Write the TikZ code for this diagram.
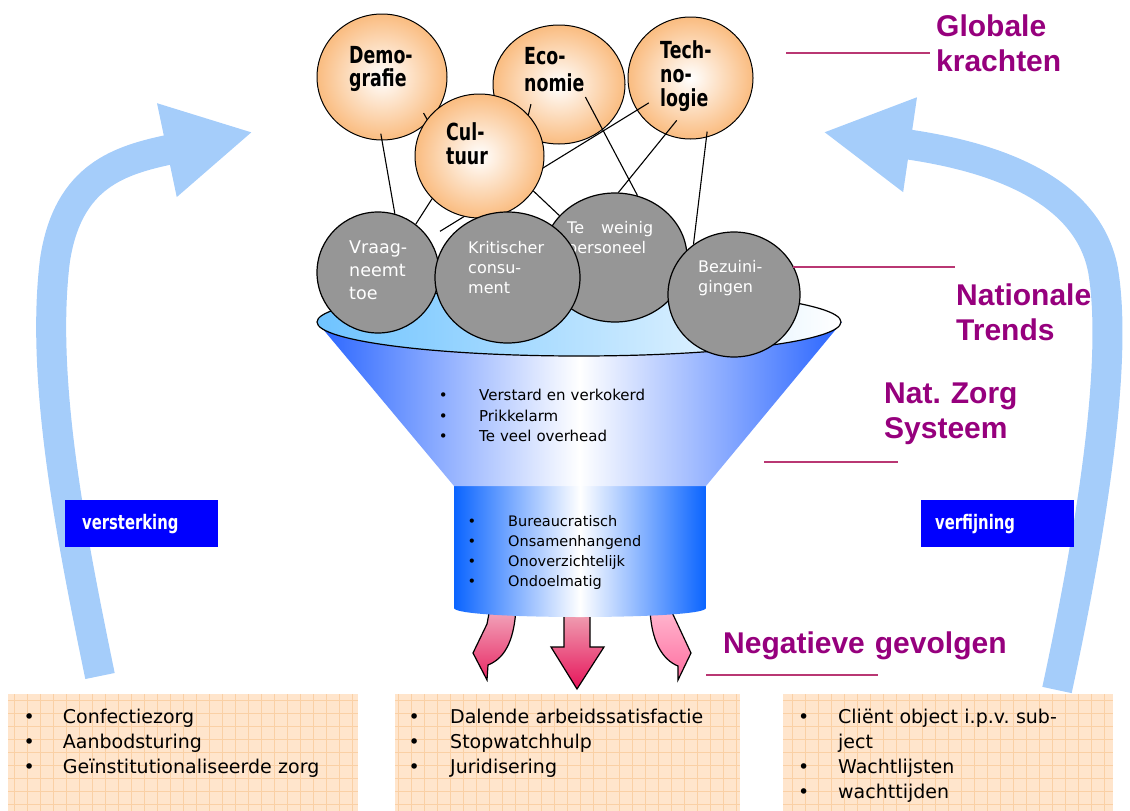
\documentclass[tikz,border=0pt]{standalone}
\usepackage{fontspec}
\setmainfont{DejaVu Sans}
\newfontfamily\titlefont{Liberation Sans}
\newfontfamily\narrowfont[FakeStretch=0.74]{DejaVu Sans}
\usetikzlibrary{shapes.geometric,arrows.meta}
\frenchspacing

\definecolor{purp}{RGB}{150,0,125}
\definecolor{purpline}{RGB}{185,55,115}
\definecolor{forcecol}{RGB}{250,188,128}
\definecolor{trendgray}{RGB}{150,150,150}
\definecolor{sky}{RGB}{165,205,250}
\definecolor{rimblue}{RGB}{110,195,255}
\definecolor{coneblue}{RGB}{40,100,255}
\definecolor{cylblue}{RGB}{10,100,255}
\definecolor{boxfill}{RGB}{255,229,204}
\definecolor{boxgrid}{RGB}{250,208,165}
\definecolor{pureblue}{RGB}{0,0,255}

\pgfdeclarelayer{bg}
\pgfdeclarelayer{links}
\pgfsetlayers{bg,links,main}

\newcommand\bul[1]{\makebox[#1][l]{\textbullet}}

\tikzset{
  force/.style={ellipse, draw, line width=1pt, inner sep=0pt, inner color=white, outer color=forcecol},
  trend/.style={ellipse, draw, line width=1.2pt, fill=trendgray, inner sep=0pt},
  link/.style={draw, line width=1.1pt},
  forcetxt/.style={anchor=base west, inner sep=0pt, text width=80pt, align=left,
    font=\narrowfont\bfseries\fontsize{23.5}{24}\selectfont},
  trendtxt/.style={anchor=base west, inner sep=0pt, text width=80pt, align=left, text=white,
    font=\fontsize{16}{20}\selectfont},
  listtxt/.style={anchor=base west, inner sep=0pt, text width=300pt, align=left},
  gridbox/.style={rectangle, fill=boxfill, inner sep=0pt,
    path picture={\draw[boxgrid, line width=.6pt] (path picture bounding box.south west) grid[step=13pt] (path picture bounding box.north east);}},
  tagbox/.style={rectangle, fill=pureblue, text=white, anchor=north west, minimum width=153pt,
    minimum height=47pt, align=left, font=\narrowfont\bfseries\fontsize{20}{24}\selectfont},
  tagtxt/.style={anchor=base west, inner sep=0pt, text width=320pt, align=left, text=purp,
    font=\titlefont\bfseries\fontsize{30}{35}\selectfont},
  tagline/.style={draw=purpline, line width=2pt},
  loop arrow/.style={draw=sky, line width=30pt, -{Triangle[length=88pt,width=89pt]}},
  outflow/.style={draw=black, line width=1.2pt}
}

\begin{document}
\begin{tikzpicture}[x=1pt,y=-1pt]
\useasboundingbox (0,0) rectangle (1130,811);

\begin{pgfonlayer}{bg}
% feedback loops
\coordinate (lfoot) at (100,676);
\coordinate (ltip) at (253,132);
\coordinate (rfoot) at (1057,690);
\coordinate (rtip) at (823,132);
\draw[loop arrow] (lfoot) .. controls (72,540) and (40,380) .. (55,260) .. controls (68,175) and (120,160) .. (ltip);
\draw[loop arrow] (rfoot) .. controls (1085,560) and (1120,370) .. (1103,270) .. controls (1085,175) and (960,152) .. (rtip);

% outcome boxes
\node[gridbox, minimum width=350pt, minimum height=117pt] (conbox) at (183,752.5) {};
\node[gridbox, minimum width=345pt, minimum height=117pt] (dalbox) at (567.5,752.5) {};
\node[gridbox, minimum width=330pt, minimum height=117pt] (clibox) at (948,752.5) {};

% outflow arrows
\shade[outflow, top color={rgb,255:red,242;green,170;blue,190}, bottom color={rgb,255:red,232;green,40;blue,100}]
  (490,608) -- (487,624) -- (473,653) -- (487,680) -- (488,665) .. controls (503,659) and (514,644) .. (516,608) -- cycle;
\shade[outflow, top color={rgb,255:red,240;green,170;blue,185}, bottom color={rgb,255:red,230;green,20;blue,90}]
  (564,608) -- (564,647) -- (551,647) -- (577,689) -- (604,647) -- (590,647) -- (590,608) -- cycle;
\shade[outflow, top color={rgb,255:red,255;green,185;blue,208}, bottom color={rgb,255:red,255;green,110;blue,160}]
  (650,608) .. controls (651,642) and (663,660) .. (678,666) -- (678,680) -- (691,653) -- (677,623) -- (670,608) -- cycle;

% funnel
\shade[left color=cylblue, right color=cylblue, middle color=white]
  (454,484) -- (706,484) -- (706,608) .. controls (706,620) and (454,620) .. (454,608) -- cycle;
\shade[left color=coneblue, right color=coneblue, middle color=white]
  (317,322) -- (842,322) -- (706,486) -- (454,486) -- cycle;
\shade[draw=black, line width=1.2pt, left color=rimblue, right color=white]
  (579,322) ellipse [x radius=262pt, y radius=34pt];

\node[force, minimum width=130pt, minimum height=126pt] (demo) at (382,77) {};
\node[force, minimum width=132pt, minimum height=119pt] (econ) at (559,84.5) {};
\node[force, minimum width=125pt, minimum height=122pt] (tech) at (690.5,78) {};
\end{pgfonlayer}

\node[force, minimum width=129pt, minimum height=124pt] (cult) at (479.5,156) {};

\node[trend, minimum width=144pt, minimum height=129pt] (weinig) at (615,257.5) {};
\node[trendtxt, text width=86pt] (weinigtxt) at (567,233) {Te\hfill weinig\\personeel};
\node[trend, minimum width=122pt, minimum height=121pt] (vraag) at (378,272.5) {};
\node[trend, minimum width=145pt, minimum height=131pt] (krit) at (507.5,277.5) {};
\node[trend, minimum width=132pt, minimum height=125pt] (bezu) at (734,294.5) {};

\begin{pgfonlayer}{links}
\draw[link, shorten <=-7pt] (demo.-90) -- (vraag.74);
\draw[link, shorten <=-10pt] (demo.-44) -- (krit.114);
\draw[link, shorten <=-32pt] (econ.235) -- (krit.92);
\draw[link, shorten <=-37pt] (econ.-46) -- (weinig.70);
\draw[link, shorten <=-14pt, shorten >=13pt] (tech.211) -- (vraag.34);
\draw[link, shorten <=-18pt] (tech.-114) -- (weinig.87);
\draw[link, shorten <=-6pt] (tech.-75) -- (bezu.129);
\draw[link] (cult.222) -- (vraag.52);
\draw[link] (cult.-33) -- (weinig.143);
\end{pgfonlayer}

\node[forcetxt] (demotxt) at (349,63) {Demo-\\grafie};
\node[forcetxt] (econtxt) at (524,64) {Eco-\\[3pt]nomie};
\node[forcetxt] (techtxt) at (660,58) {Tech-\\no-\\logie};
\node[forcetxt] (culttxt) at (446,140) {Cul-\\tuur};

\node[trendtxt, font=\fontsize{17.5}{23}\selectfont] (vraagtxt) at (349,253) {Vraag-\\neemt\\toe};
\node[trendtxt] (krittxt) at (468,253) {Kritischer\\consu-\\ment};
\node[trendtxt] (bezutxt) at (698,272) {Bezuini-\\gingen};

\node[listtxt, font=\fontsize{15}{20.5}\selectfont] (systxt) at (438.6,400.7)
  {\bul{40.4pt}Verstard en verkokerd\\\bul{40.4pt}Prikkelarm\\\bul{40.4pt}Te veel overhead};
\node[listtxt, font=\fontsize{14.5}{20}\selectfont] (cyltxt) at (467.4,526)
  {\bul{40.6pt}Bureaucratisch\\\bul{40.6pt}Onsamenhangend\\\bul{40.6pt}Onoverzichtelijk\\\bul{40.6pt}Ondoelmatig};

\node[listtxt, font=\fontsize{19}{25}\selectfont] (contxt) at (23.4,723)
  {\bul{39.3pt}Confectiezorg\\\bul{39.3pt}Aanbodsturing\\\bul{39.3pt}Geïnstitutionaliseerde zorg};
\node[listtxt, font=\fontsize{19}{25}\selectfont] (daltxt) at (408.4,723)
  {\bul{41.6pt}Dalende arbeidssatisfactie\\\bul{41.6pt}Stopwatchhulp\\\bul{41.6pt}Juridisering};
\node[listtxt, font=\fontsize{19}{25}\selectfont] (clitxt) at (797.9,723)
  {\bul{40.1pt}Cliënt object i.p.v. sub-\\\hspace*{40.1pt}ject\\\bul{40.1pt}Wachtlijsten\\\bul{40.1pt}wachttijden};

\node[tagbox, inner xsep=17pt, text width=119pt] (verst) at (65,500) {versterking};
\node[tagbox, inner xsep=14pt, text width=125pt] (verfij) at (921,500) {verfijning};

\node[tagtxt] (glob) at (936,36) {Globale\\krachten};
\node[tagtxt] (nat) at (956,305) {Nationale\\Trends};
\node[tagtxt] (zorg) at (884,403) {Nat. Zorg\\Systeem};
\node[tagtxt] (neg) at (723,653) {Negatieve gevolgen};

\coordinate (globL) at (786,53);  \coordinate (globR) at (930,53);
\coordinate (natL) at (793,267);  \coordinate (natR) at (955,267);
\coordinate (zorgL) at (764,462); \coordinate (zorgR) at (898,462);
\coordinate (negL) at (706,675);  \coordinate (negR) at (878,675);
\draw[tagline] (globL) -- (globR);
\draw[tagline] (natL) -- (natR);
\draw[tagline] (zorgL) -- (zorgR);
\draw[tagline] (negL) -- (negR);
\end{tikzpicture}
\end{document}
